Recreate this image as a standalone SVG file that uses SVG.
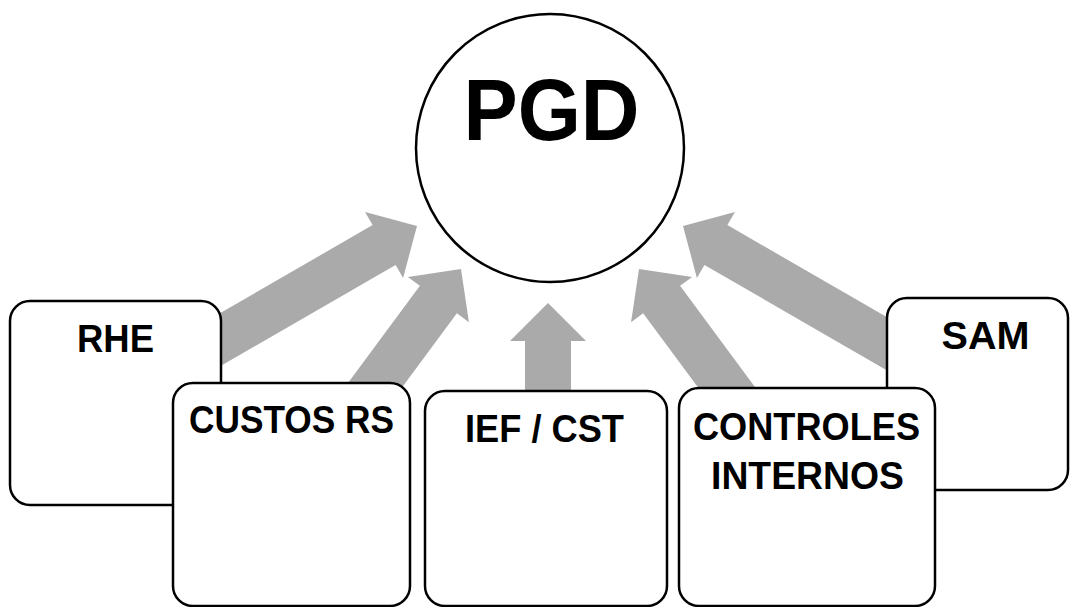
<svg xmlns="http://www.w3.org/2000/svg" xmlns:xlink="http://www.w3.org/1999/xlink" width="1071" height="607" viewBox="0 0 1071 607">
  <style>
    .box { fill: #ffffff; stroke: #000000; stroke-width: 2.5; }
    .lbl { font-family: "Liberation Sans", Arial, sans-serif; font-weight: bold; font-size: 38px; fill: #000000; text-anchor: middle; }
    .big { font-size: 87px; }
    .arrow { fill: #aaaaaa; stroke: none; }
  </style>
  <defs>
    <polygon id="arr" points="-250,-23 -38,-23 -38,-38 0,0 -38,38 -38,23 -250,23"/>
  </defs>
  <rect width="1071" height="607" fill="#ffffff"/>
  <g id="connectors" class="arrow">
    <use xlink:href="#arr" href="#arr" transform="translate(417 226) rotate(-30)"/>
    <use xlink:href="#arr" href="#arr" transform="translate(461 269) rotate(-53.5)"/>
    <use xlink:href="#arr" href="#arr" transform="translate(548 303) rotate(-90)"/>
    <use xlink:href="#arr" href="#arr" transform="translate(639 269) rotate(-126.5)"/>
    <use xlink:href="#arr" href="#arr" transform="translate(683 226) rotate(-150)"/>
  </g>
  <g id="node-pgd">
    <circle class="box" cx="550" cy="148" r="134"/>
    <text class="lbl big" x="551.5" y="140" textLength="176" lengthAdjust="spacingAndGlyphs">PGD</text>
  </g>
  <g id="node-rhe">
    <rect class="box" x="10" y="301" width="211" height="204" rx="20" ry="20"/>
    <text class="lbl" x="115.5" y="352" textLength="77" lengthAdjust="spacingAndGlyphs">RHE</text>
  </g>
  <g id="node-custos">
    <rect class="box" x="173" y="383" width="237" height="223" rx="20" ry="20"/>
    <text class="lbl" x="291.5" y="433" textLength="205" lengthAdjust="spacingAndGlyphs">CUSTOS RS</text>
  </g>
  <g id="node-ief">
    <rect class="box" x="425" y="391" width="242" height="215" rx="20" ry="20"/>
    <text class="lbl" x="544.5" y="442" textLength="159" lengthAdjust="spacingAndGlyphs">IEF / CST</text>
  </g>
  <g id="node-sam">
    <rect class="box" x="887" y="298" width="181" height="192" rx="20" ry="20"/>
    <text class="lbl" x="985.5" y="349" textLength="88" lengthAdjust="spacingAndGlyphs">SAM</text>
  </g>
  <g id="node-controles">
    <rect class="box" x="679" y="388" width="256" height="218" rx="20" ry="20"/>
    <text class="lbl" x="806.5" y="440" textLength="227" lengthAdjust="spacingAndGlyphs">CONTROLES</text>
    <text class="lbl" x="807.5" y="489" textLength="193" lengthAdjust="spacingAndGlyphs">INTERNOS</text>
  </g>
</svg>
